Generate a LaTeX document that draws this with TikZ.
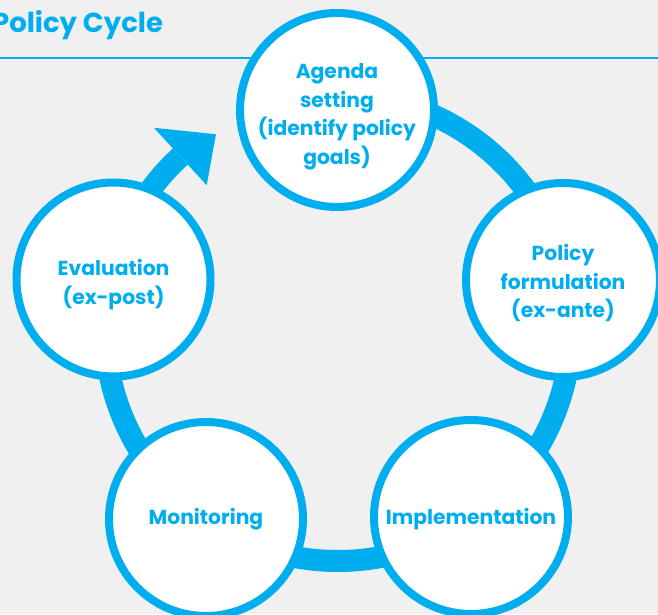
\documentclass[tikz,border=0pt]{standalone}
\usepackage{fontspec}
\setmainfont{Poppins}
\usetikzlibrary{calc}
\definecolor{cyc}{HTML}{00AEEF}
\definecolor{bg}{HTML}{F0F0F0}
\begin{document}
\begin{tikzpicture}[x=1pt,y=1pt,
  stage/.style={circle, fill=white, draw=cyc, line width=8pt, minimum size=194pt, inner sep=0pt},
  lbl/.style={text=cyc, font=\bfseries\fontsize{20.3}{28.5}\selectfont, align=center},
  ring/.style={draw=cyc, line width=22pt}]
\fill[bg] (0,0) rectangle (658,614);
\useasboundingbox (0,0) rectangle (658,614);
% title and rule
\node[anchor=base west, inner sep=0pt, text=cyc, font=\bfseries\fontsize{27.5}{30}\selectfont] (title) at (-8,581) {Policy Cycle};
\coordinate (ruleL) at (0,556);
\coordinate (ruleR) at (658,556);
\draw[cyc, line width=2.5pt] (ruleL) -- (ruleR);
% ring
\coordinate (rc) at (338,286);
\draw[ring] (rc) ++(95:233) arc[start angle=95, end angle=-227.4, radius=233];
\fill[cyc] ($(rc)+(132.6:272)$) -- ($(rc)+(122.2:229)$) -- ($(rc)+(132.6:194)$) -- cycle;
% stages
\node[stage] (agenda) at (337,504) {};
\node[stage] (form) at (563,334) {};
\node[stage] (impl) at (471,97) {};
\node[stage] (mon) at (206,95) {};
\node[stage] (eval) at (113.5,334.5) {};
\node[lbl] at ([yshift=-7]agenda.center) {Agenda\\setting\\(identify policy\\goals)};
\node[lbl] at ([yshift=-3]form.center) {Policy\\formulation\\(ex-ante)};
\node[lbl] at ([yshift=-2]impl.center) {Implementation};
\node[lbl] at (mon.center) {Monitoring};
\node[lbl] at ([yshift=-5]eval.center) {Evaluation\\(ex-post)};
\end{tikzpicture}
\end{document}
